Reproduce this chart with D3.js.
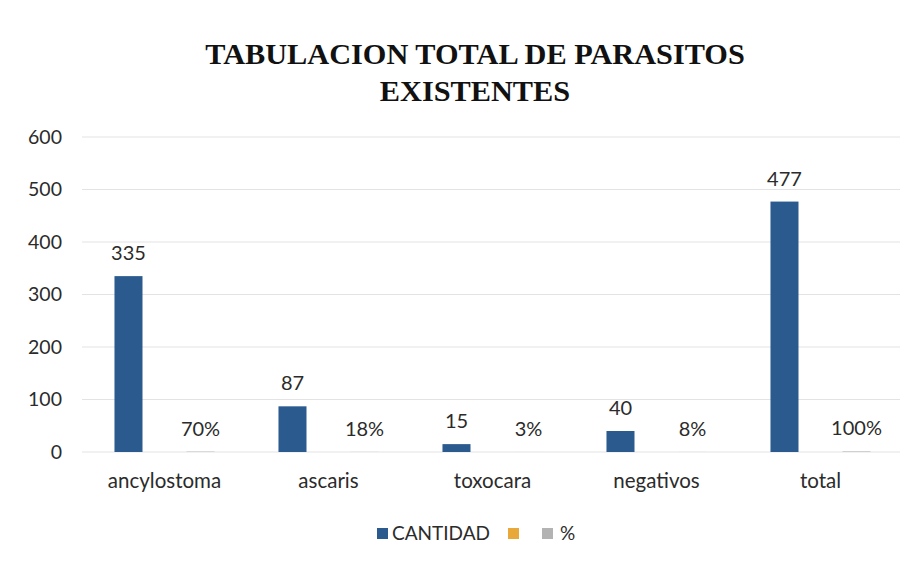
<!DOCTYPE html>
<html><head><meta charset="utf-8">
<script src="https://cdn.jsdelivr.net/npm/d3@7"></script>
<style>body{margin:0;background:#fff}svg{display:block}</style>
</head><body>
<svg id="c" width="914" height="561"></svg>
<script>
const categories = ["ancylostoma","ascaris","toxocara","negativos","total"];
const cantidad = [335, 87, 15, 40, 477];
const serie2 = [null, null, null, null, null];
const porcentaje = [0.70, 0.18, 0.03, 0.08, 1.00];
const seriesNames = ["CANTIDAD", "", "%"];
const yTicks = [0, 100, 200, 300, 400, 500, 600];
const titleLines = ["TABULACION TOTAL DE PARASITOS", "EXISTENTES"];
const colors = ["#2A5A8E", "#E8A83A", "#B3B3B3"];

const svg = d3.select("#c");
const font = "Lato, 'Open Sans', sans-serif";
const txt = "#2b2b2b";
const x = d3.scaleBand().domain(categories).range([82.5, 902.5]).paddingInner(0.39).paddingOuter(0.195);
const xi = d3.scaleBand().domain(seriesNames.map((d,i)=>i)).range([0, x.bandwidth()]).paddingInner(0.222);
const y = d3.scaleLinear().domain([0, 600]).range([452, 137]);

// gridlines
svg.append("g").selectAll("line").data(yTicks).join("line")
  .attr("x1", 82).attr("x2", 900).attr("y1", d=>y(d)).attr("y2", d=>y(d))
  .attr("stroke", "#e3e3e3").attr("stroke-width", 1);

// y axis
const ya = svg.append("g").attr("transform", "translate(68,0)")
  .call(d3.axisLeft(y).tickValues(yTicks).tickSize(0).tickPadding(6));
ya.select(".domain").remove();
ya.selectAll("text").attr("font-family", font).attr("font-size", 19.5).attr("fill", txt);

// x axis labels
const xa = svg.append("g").attr("transform", "translate(0,452)")
  .call(d3.axisBottom(x).tickSize(0).tickPadding(21));
xa.select(".domain").remove();
xa.selectAll("text").attr("font-family", font).attr("font-size", 20.5).attr("fill", txt);

const allSeries = [cantidad, serie2, porcentaje];
allSeries.forEach((vals, si) => {
  const g = svg.append("g");
  const data = categories.map((c, i) => ({c, v: vals[i]})).filter(d => d.v != null);
  g.selectAll("rect").data(data).join("rect")
    .attr("x", d => x(d.c) + xi(si)).attr("width", xi.bandwidth())
    .attr("y", d => y(d.v)).attr("height", d => y(0) - y(d.v))
    .attr("fill", colors[si]);
  g.selectAll("text").data(data).join("text")
    .attr("x", d => x(d.c) + xi(si) + xi.bandwidth()/2)
    .attr("y", d => y(d.v) - 16)
    .attr("text-anchor", "middle")
    .attr("font-family", font).attr("font-size", 20).attr("fill", txt)
    .text(d => si === 2 ? d3.format(".0%")(d.v) : d.v);
});

// title
svg.append("text").attr("x", 475).attr("text-anchor", "middle")
  .attr("font-family", "'Liberation Serif', 'Times New Roman', serif").attr("font-weight", "bold")
  .attr("font-size", 30.3).attr("fill", "#111")
  .selectAll("tspan").data(titleLines).join("tspan")
  .attr("x", 475).attr("y", (d,i) => 63.5 + i*37).text(d => d);

// legend
const legendPos = [{sx: 377, tx: 392}, {sx: 508, tx: null}, {sx: 542, tx: 560}];
const lg = svg.append("g");
seriesNames.forEach((n, i) => {
  lg.append("rect").attr("x", legendPos[i].sx).attr("y", 528).attr("width", 11).attr("height", 11).attr("fill", colors[i]);
  if (n) lg.append("text").attr("x", legendPos[i].tx).attr("y", 539.5)
    .attr("font-family", font).attr("font-size", 19).attr("fill", txt).text(n);
});
</script>
</body></html>
